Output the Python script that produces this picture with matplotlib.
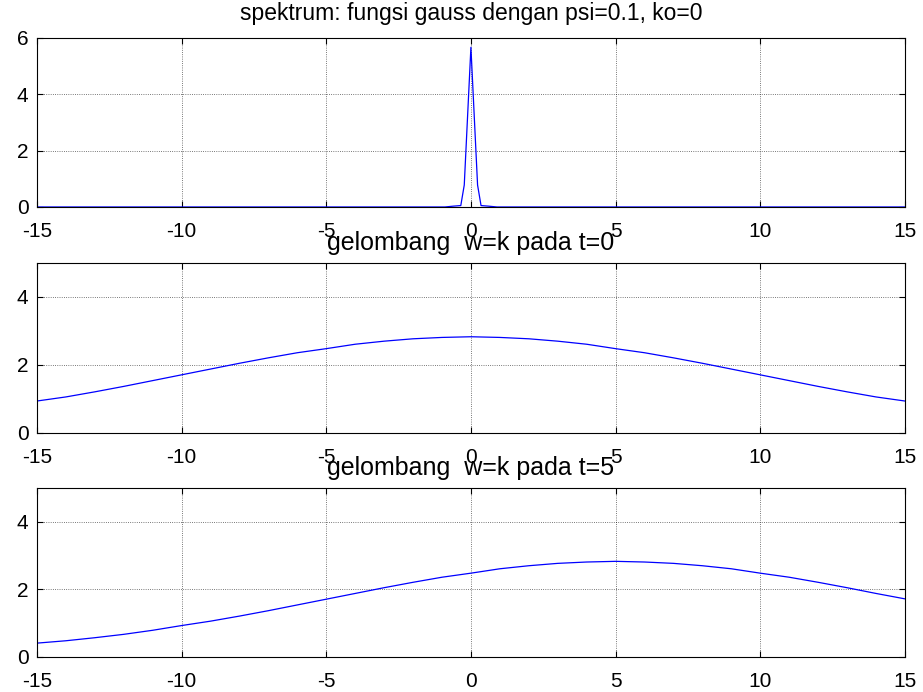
import matplotlib.pyplot as plt

plt.rcParams['font.family'] = ['Liberation Sans', 'DejaVu Sans']
plt.rcParams['axes.unicode_minus'] = False

# spectrum (top panel)
k_spec = [-15, -0.9, -0.6, -0.35, -0.23, 0, 0.23, 0.35, 0.6, 0.9, 15]
a_spec = [0, 0.0, 0.03, 0.05, 0.78, 5.67, 0.78, 0.05, 0.03, 0.0, 0]

# wave at t=0 and t=5, read at x = -15..15
x_wave = list(range(-15, 16))
y_t0 = [0.94, 1.06, 1.21, 1.37, 1.54, 1.71, 1.88, 2.05, 2.21, 2.36, 2.48, 2.61, 2.70, 2.77, 2.81, 2.83,
        2.81, 2.77, 2.70, 2.61, 2.48, 2.36, 2.21, 2.05, 1.88, 1.71, 1.54, 1.37, 1.21, 1.06, 0.94]
y_t5 = [0.41, 0.48, 0.57, 0.67, 0.79, 0.93, 1.06, 1.21, 1.37, 1.54, 1.71, 1.88, 2.05, 2.21, 2.36, 2.48,
        2.61, 2.70, 2.77, 2.81, 2.83, 2.81, 2.77, 2.70, 2.61, 2.48, 2.36, 2.21, 2.05, 1.88, 1.72]

titles = ['spektrum: fungsi gauss dengan psi=0.1, ko=0',
          'gelombang  w=k pada t=0',
          'gelombang  w=k pada t=5']
xticks = [-15, -10, -5, 0, 5, 10, 15]

fig = plt.figure(figsize=(9.23, 6.92), dpi=100)
boxes = [[0.040, 0.7009, 0.9404, 0.2442],
         [0.040, 0.3743, 0.9404, 0.2457],
         [0.040, 0.0506, 0.9404, 0.2442]]

panels = [(k_spec, a_spec, 6, [0, 2, 4, 6]),
          (x_wave, y_t0, 5, [0, 2, 4]),
          (x_wave, y_t5, 5, [0, 2, 4])]

# title size / pad per panel
title_fs = [16.5, 18, 18]
title_pad = [13, 9.5, 9.5]

for i, (box, (x, y, ytop, yt), title) in enumerate(zip(boxes, panels, titles)):
    ax = fig.add_axes(box)
    ax.plot(x, y, color='blue', linewidth=0.9)
    ax.set_xlim(-15, 15)
    ax.set_ylim(0, ytop)
    ax.set_xticks(xticks)
    ax.set_yticks(yt)
    ax.grid(True, color='black', linestyle=':', linewidth=0.6, alpha=0.7)
    ax.tick_params(direction='in', length=4, width=0.8, top=True, right=True,
                   labelsize=15)
    ax.tick_params(axis='x', pad=11)
    ax.tick_params(axis='y', pad=6)
    for s in ax.spines.values():
        s.set_linewidth(0.8)
    ax.set_title(title, fontsize=title_fs[i], pad=title_pad[i])

plt.savefig('out.png', dpi=100)
